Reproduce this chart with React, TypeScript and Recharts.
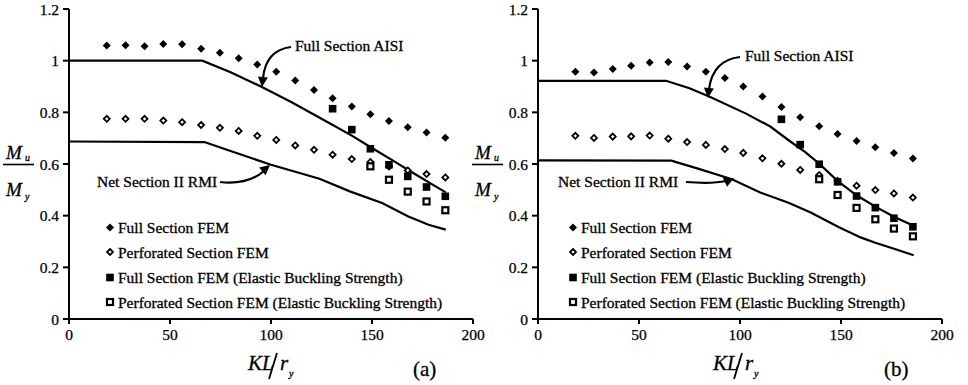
import { ComposedChart, Line, Scatter, XAxis, YAxis } from 'recharts';

// KL/r_y slenderness of the FEM specimens, panel (a) and (b)
const klA = [18.7, 28, 37.4, 46.7, 56, 65.4, 74.7, 84, 93.2, 102.6, 112, 121.3, 130.5, 140, 149.2, 158.4, 167.7, 177, 186.3];
const klB = [18.5, 27.7, 37, 46.1, 55.3, 64.5, 73.8, 83.1, 92.5, 101.6, 111.1, 120.5, 129.8, 139.2, 148.3, 157.7, 167, 176.2, 185.6];

// Mu/My, panel (a)
const fullFemA = [1.059, 1.06, 1.056, 1.065, 1.064, 1.046, 1.031, 1.009, 0.985, 0.957, 0.923, 0.886, 0.855, 0.823, 0.793, 0.766, 0.742, 0.722, 0.702];
const perfFemA = [0.775, 0.775, 0.775, 0.768, 0.762, 0.751, 0.74, 0.728, 0.709, 0.693, 0.672, 0.655, 0.636, 0.619, 0.608, 0.59, 0.575, 0.561, 0.548];
const fullElasticKlA = [130.5, 140, 149.2, 158.4, 167.7, 177, 186.3];
const fullElasticA = [0.814, 0.733, 0.659, 0.597, 0.552, 0.511, 0.475];
const perfElasticKlA = [149.2, 158.4, 167.7, 177, 186.3];
const perfElasticA = [0.591, 0.539, 0.493, 0.455, 0.421];
const aisiKlA = [0, 66, 80, 95, 110, 125, 140, 150, 160, 170, 180, 186.5];
const aisiA = [1, 1, 0.955, 0.9, 0.84, 0.775, 0.71, 0.662, 0.615, 0.567, 0.52, 0.49];
const rmiKlA = [0, 67, 80, 100, 124, 139, 155, 168, 178, 186.5];
const rmiA = [0.687, 0.685, 0.65, 0.597, 0.543, 0.494, 0.449, 0.397, 0.365, 0.346];

// Mu/My, panel (b)
const fullFemB = [0.957, 0.954, 0.968, 0.98, 0.993, 0.995, 0.977, 0.957, 0.933, 0.9, 0.861, 0.821, 0.781, 0.746, 0.716, 0.689, 0.665, 0.643, 0.621];
const perfFemB = [0.709, 0.701, 0.706, 0.707, 0.71, 0.698, 0.685, 0.674, 0.658, 0.643, 0.622, 0.601, 0.577, 0.557, 0.535, 0.516, 0.499, 0.486, 0.47];
const fullElasticKlB = [120.5, 129.8, 139.2, 148.3, 157.7, 167, 176.2, 185.6];
const fullElasticB = [0.773, 0.675, 0.599, 0.531, 0.476, 0.431, 0.39, 0.357];
const perfElasticKlB = [139.2, 148.3, 157.7, 167, 176.2, 185.6];
const perfElasticB = [0.541, 0.48, 0.43, 0.386, 0.35, 0.32];
const aisiKlB = [0, 63.4, 75, 85, 103, 115, 124.4, 132, 139, 148.4, 157.7, 167, 176.2, 185.6];
const aisiB = [0.922, 0.922, 0.893, 0.86, 0.795, 0.745, 0.69, 0.648, 0.603, 0.534, 0.479, 0.435, 0.396, 0.362];
const rmiKlB = [0, 66, 80, 96, 110, 124, 135, 149, 160, 167, 177, 186];
const rmiB = [0.614, 0.613, 0.58, 0.541, 0.49, 0.45, 0.412, 0.355, 0.315, 0.295, 0.27, 0.247];

const xTicks = [0, 50, 100, 150, 200];
const yTicks = [0, 0.2, 0.4, 0.6, 0.8, 1, 1.2];
const legendLabels = [
    'Full Section FEM',
    'Perforated Section FEM',
    'Full Section FEM (Elastic Buckling Strength)',
    'Perforated Section FEM (Elastic Buckling Strength)',
];

const FONT = 'Liberation Serif, DejaVu Serif, serif';

const pts = (xs: number[], ys: number[]) => xs.map((x, i) => ({ x, y: ys[i] }));

// marker shapes
const FilledDiamond = ({ cx, cy }: any) => (
    <polygon points={`${cx},${cy - 4} ${cx + 4},${cy} ${cx},${cy + 4} ${cx - 4},${cy}`} fill="#000" />
);
const OpenDiamond = ({ cx, cy }: any) => (
    <polygon
        points={`${cx},${cy - 3} ${cx + 3},${cy} ${cx},${cy + 3} ${cx - 3},${cy}`}
        fill="#fff"
        stroke="#000"
        strokeWidth={1.8}
    />
);
const FilledSquare = ({ cx, cy }: any) => <rect x={cx - 3.8} y={cy - 3.8} width={7.6} height={7.6} fill="#000" />;
const OpenSquare = ({ cx, cy }: any) => (
    <rect x={cx - 3} y={cy - 3} width={6} height={6} fill="#fff" stroke="#000" strokeWidth={2.2} />
);
const markers = [FilledDiamond, OpenDiamond, FilledSquare, OpenSquare];

interface PanelProps {
    left: number;
    kl: number[];
    fullFem: number[];
    perfFem: number[];
    fullElastic: { x: number; y: number }[];
    perfElastic: { x: number; y: number }[];
    aisi: { x: number; y: number }[];
    rmi: { x: number; y: number }[];
}

function Panel({ left, kl, fullFem, perfFem, fullElastic, perfElastic, aisi, rmi }: PanelProps) {
    const axisStyle = { stroke: '#000', strokeWidth: 2 };
    const tickStyle = { fill: '#000', fontSize: 15.5, fontFamily: FONT, stroke: '#000', strokeWidth: 0.25 };
    return (
        <div style={{ position: 'absolute', left, top: 0 }}>
            <ComposedChart width={490} height={385} margin={{ top: 9, right: 17, left: 0, bottom: 36 }}>
                <XAxis
                    type="number"
                    dataKey="x"
                    domain={[0, 200]}
                    ticks={xTicks}
                    height={30}
                    axisLine={axisStyle}
                    tickLine={axisStyle}
                    tickSize={5}
                    tickMargin={5}
                    tick={tickStyle}
                />
                <YAxis
                    type="number"
                    dataKey="y"
                    domain={[0, 1.2]}
                    ticks={yTicks}
                    width={69}
                    axisLine={axisStyle}
                    tickLine={axisStyle}
                    tickSize={6}
                    tickMargin={4}
                    tick={tickStyle}
                />
                <Line data={aisi} dataKey="y" type="linear" stroke="#000" strokeWidth={2.2} dot={false} isAnimationActive={false} />
                <Line data={rmi} dataKey="y" type="linear" stroke="#000" strokeWidth={2.2} dot={false} isAnimationActive={false} />
                <Scatter data={pts(kl, fullFem)} dataKey="y" shape={FilledDiamond} isAnimationActive={false} />
                <Scatter data={pts(kl, perfFem)} dataKey="y" shape={OpenDiamond} isAnimationActive={false} />
                <Scatter data={perfElastic} dataKey="y" shape={OpenSquare} isAnimationActive={false} />
                <Scatter data={fullElastic} dataKey="y" shape={FilledSquare} isAnimationActive={false} />
            </ComposedChart>
        </div>
    );
}

const Arrow = ({ d, tip, angle }: { d: string; tip: [number, number]; angle: number }) => (
    <g>
        <path d={d} fill="none" stroke="#000" strokeWidth={2.2} />
        <polygon
            points="0,0 -10,-5 -10,5"
            fill="#000"
            transform={`translate(${tip[0]},${tip[1]}) rotate(${angle})`}
        />
    </g>
);

function Annotations() {
    const legendYs = [228, 252.5, 278, 302.5];
    const legendX = [110, 573];
    return (
        <svg width={968} height={385} style={{ position: 'absolute', left: 0, top: 0, pointerEvents: 'none', fontFamily: FONT }}>
            <g fill="#000" stroke="#000" strokeWidth={0.3}>
                {/* Mu/My axis titles */}
                {[3, 472].map((x0) => (
                    <g key={x0} fontStyle="italic">
                        <text x={x0 + 3} y={159} fontSize={19}>M</text>
                        <text x={x0 + 22} y={161} fontSize={10}>u</text>
                        <line x1={x0} x2={x0 + 31} y1={164.5} y2={164.5} strokeWidth={1.6} />
                        <text x={x0 + 3} y={196} fontSize={19}>M</text>
                        <text x={x0 + 22} y={200} fontSize={10}>y</text>
                    </g>
                ))}
                {/* KL/r_y axis titles */}
                {[248, 713].map((x0) => (
                    <g key={x0} fontStyle="italic">
                        <text x={x0} y={370} fontSize={21}>KL</text>
                        <line x1={x0 + 29} y1={353} x2={x0 + 21} y2={379} strokeWidth={1.8} />
                        <text x={x0 + 32} y={370} fontSize={21}>r</text>
                        <text x={x0 + 41} y={377} fontSize={10}>y</text>
                    </g>
                ))}
                <text x={413} y={376} fontSize={21}>(a)</text>
                <text x={884} y={376} fontSize={21}>(b)</text>

                {/* curve labels */}
                <text x={295} y={51} fontSize={15.5}>Full Section AISI</text>
                <text x={97} y={187} fontSize={15.5}>Net Section II RMI</text>
                <text x={745} y={61} fontSize={15.5}>Full Section AISI</text>
                <text x={558} y={187} fontSize={15.5}>Net Section II RMI</text>
            </g>
            <Arrow d="M291,47 Q266,50 263,78" tip={[262, 87]} angle={95} />
            <Arrow d="M220,182 Q248,185 264,171" tip={[270, 165]} angle={-40} />
            <Arrow d="M740,57 Q713,60 709,89" tip={[708, 98]} angle={95} />
            <Arrow d="M686,182 Q712,184 726,181" tip={[734, 178]} angle={-25} />

            {/* legends */}
            {legendX.map((lx) =>
                legendLabels.map((label, i) => {
                    const Marker = markers[i];
                    return (
                        <g key={`${lx}-${i}`}>
                            <Marker cx={lx} cy={legendYs[i] - 0.5} />
                            <text x={lx + 8} y={legendYs[i] + 5} fontSize={15.5} fill="#000" stroke="#000" strokeWidth={0.3}>
                                {label}
                            </text>
                        </g>
                    );
                })
            )}
        </svg>
    );
}

export default function App() {
    return (
        <div style={{ position: 'absolute', left: 0, top: 0, width: 968, height: 385, background: '#fff', overflow: 'hidden' }}>
            <Panel
                left={0}
                kl={klA}
                fullFem={fullFemA}
                perfFem={perfFemA}
                fullElastic={pts(fullElasticKlA, fullElasticA)}
                perfElastic={pts(perfElasticKlA, perfElasticA)}
                aisi={pts(aisiKlA, aisiA)}
                rmi={pts(rmiKlA, rmiA)}
            />
            <Panel
                left={469}
                kl={klB}
                fullFem={fullFemB}
                perfFem={perfFemB}
                fullElastic={pts(fullElasticKlB, fullElasticB)}
                perfElastic={pts(perfElasticKlB, perfElasticB)}
                aisi={pts(aisiKlB, aisiB)}
                rmi={pts(rmiKlB, rmiB)}
            />
            <Annotations />
        </div>
    );
}
